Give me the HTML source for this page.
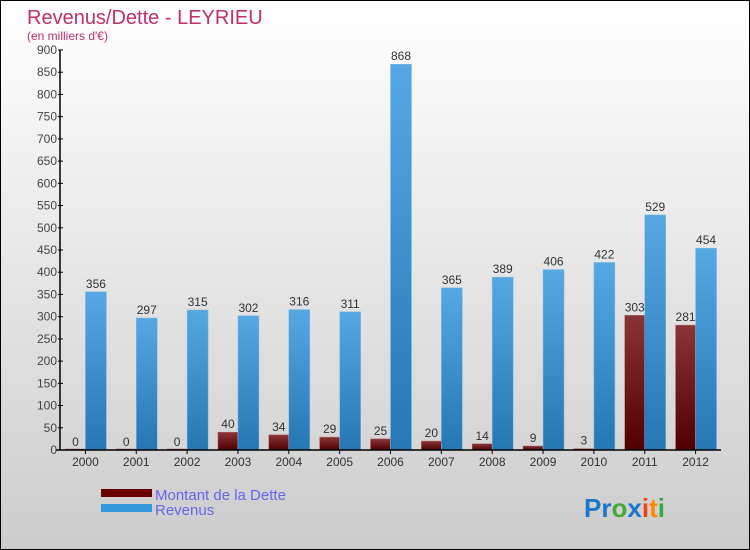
<!DOCTYPE html>
<html><head><meta charset="utf-8"><style>
html,body{margin:0;padding:0}
body{width:750px;height:550px;overflow:hidden;font-family:"Liberation Sans",sans-serif}
#wrap{position:relative;width:748px;height:548px;border:1px solid #000;background:linear-gradient(#fff,#ccc)}
</style></head><body>
<div id="wrap">
<svg id="chart" width="748" height="548" style="position:absolute;left:0;top:0">
<defs>
<linearGradient id="gr" x1="0" y1="0" x2="0" y2="1"><stop offset="0" stop-color="#8a3438"/><stop offset="1" stop-color="#500000"/></linearGradient>
<linearGradient id="gb" x1="0" y1="0" x2="0" y2="1"><stop offset="0" stop-color="#55a8e4"/><stop offset="1" stop-color="#2577b3"/></linearGradient>
</defs>
<text x="26" y="23" font-size="20" fill="#c0306a">Revenus/Dette - LEYRIEU</text>
<text x="26" y="39" font-size="12" fill="#c0306a">(en milliers d'€)</text>
<g id="g"></g>
<rect x="100" y="488" width="51" height="8" fill="#6a0000"/>
<rect x="100" y="503" width="51" height="8" fill="#3399dd"/>
<text x="154" y="499" font-size="15" fill="#6666ee">Montant de la Dette</text>
<text x="154" y="514" font-size="15" fill="#6666ee">Revenus</text>
<text x="583" y="516" font-size="26" font-weight="bold"><tspan fill="#1a77cc">Pr</tspan><tspan fill="#44aa33">o</tspan><tspan fill="#1a77cc">x</tspan><tspan fill="#ee4411">i</tspan><tspan fill="#ff8800">t</tspan><tspan fill="#33aa44">i</tspan></text>
</svg>
</div>
<script>
const years=["2000","2001","2002","2003","2004","2005","2006","2007","2008","2009","2010","2011","2012"];
const dette=[0,0,0,40,34,29,25,20,14,9,3,303,281];
const revenus=[356,297,315,302,316,311,868,365,389,406,422,529,454];
const yTicks=[0,50,100,150,200,250,300,350,400,450,500,550,600,650,700,750,800,850,900];
const ns="http://www.w3.org/2000/svg";
const g=document.getElementById('g');
const x0=59,x1=720,yb=449,yt=49,ymax=900;
const step=(x1-x0)/years.length;
const y=v=>yb-v*(yb-yt)/ymax;
const cx=i=>x0+step*(i+0.5);
function mk(t,a,txt){const e=document.createElementNS(ns,t);for(const k in a)e.setAttribute(k,a[k]);if(txt!=null)e.textContent=txt;g.appendChild(e);return e;}
dette.forEach((v,i)=>{
 const r=mk('rect',{x:cx(i)-20,y:y(v)-(v===0?1:0),width:20,height:Math.max(yb-y(v),1),fill:'url(#gr)',stroke:'#aa6666','stroke-width':0.5});
 
 
 const t=mk('text',{x:cx(i)-10,y:y(v)-4,'font-size':12,fill:'#333','text-anchor':'middle'},String(v));
 
 
});
revenus.forEach((v,i)=>{
 const r=mk('rect',{x:cx(i),y:y(v),width:21,height:yb-y(v),fill:'url(#gb)',stroke:'#88bbdd','stroke-width':0.5});
 
 
 const t=mk('text',{x:cx(i)+10.5,y:y(v)-4,'font-size':12,fill:'#333','text-anchor':'middle'},String(v));
 
 
});
const ax=mk('line',{x1:x0,y1:yt,x2:x0,y2:yb,stroke:'#000','stroke-width':1.5});


const bx=mk('line',{x1:x0-4,y1:yb,x2:x1,y2:yb,stroke:'#000','stroke-width':1.5});


yTicks.forEach(v=>{
 mk('line',{x1:x0-2,y1:y(v),x2:x0+3,y2:y(v),stroke:'#000'});
 const t=mk('text',{x:x0-3,y:y(v)+4,'font-size':12,fill:'#444','text-anchor':'end'},String(v));
 
 
});
years.forEach((yr,i)=>{
 mk('line',{x1:cx(i),y1:yb,x2:cx(i),y2:yb+4,stroke:'#000'});
 const t=mk('text',{x:cx(i),y:yb+16,'font-size':12,fill:'#333','text-anchor':'middle'},yr);
 
 
});
</script>
</body></html>
